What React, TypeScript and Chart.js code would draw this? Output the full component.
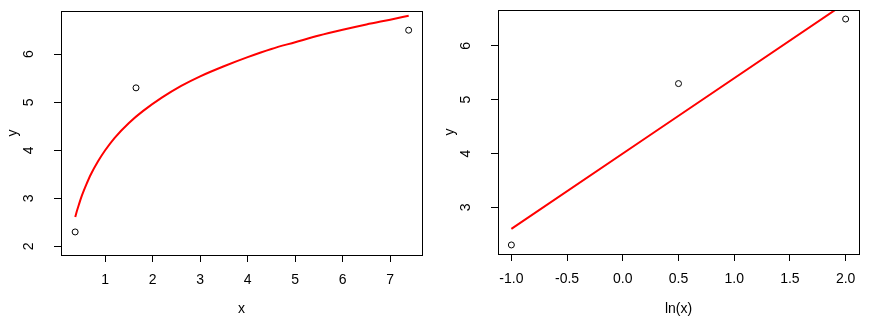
import React, { useEffect, useRef } from "react";
import { Chart, registerables } from "chart.js";

Chart.register(...registerables);

// Observed data
const obsX = [0.368, 1.649, 7.389];
const obsLnX = [-1.0, 0.5, 2.0];
const obsY = [2.3, 5.3, 6.5];

// Fitted curve on x scale
const curveX = [0.37, 0.4, 0.45, 0.5, 0.55, 0.6, 0.7, 0.85, 1.0, 1.2, 1.5, 1.8, 2.2, 2.6, 3.0, 3.5, 4.0, 4.5, 5.0, 5.5, 6.0, 6.5, 7.0, 7.39];
const curveY = [2.61, 2.72, 2.88, 3.03, 3.16, 3.28, 3.5, 3.77, 4.0, 4.26, 4.57, 4.82, 5.1, 5.34, 5.54, 5.75, 5.94, 6.11, 6.25, 6.39, 6.51, 6.62, 6.72, 6.8];

// Fitted line on ln(x) scale
const lineLnX = [-1.0, 2.0];
const lineY = [2.6, 6.8];

// Tick labels
const leftXTicks = [1, 2, 3, 4, 5, 6, 7];
const leftYTicks = [2, 3, 4, 5, 6];
const rightXTicks = [-1.0, -0.5, 0.0, 0.5, 1.0, 1.5, 2.0];
const rightYTicks = [3, 4, 5, 6];

const FONT = "'Liberation Sans', Arial, sans-serif";

const boxPlugin = {
  id: "rbox",
  afterDraw(chart: any) {
    const { ctx, chartArea: a } = chart;
    const l = Math.round(a.left);
    const t = Math.round(a.top);
    const r = Math.round(a.right);
    const b = Math.round(a.bottom);
    ctx.save();
    ctx.strokeStyle = "#000";
    ctx.lineWidth = 1;
    ctx.strokeRect(l + 0.5, t + 0.5, r - l, b - t);
    ctx.restore();
  },
};

type PanelProps = {
  left: number;
  width: number;
  padTop: number;
  padRight: number;
  xAxisHeight: number;
  xs: number[];
  ys: number[];
  lx: number[];
  ly: number[];
  xMin: number;
  xMax: number;
  yMin: number;
  yMax: number;
  xTicks: number[];
  yTicks: number[];
  xDecimals: number;
  xTitle: string;
};

function Panel(p: PanelProps) {
  const ref = useRef<HTMLCanvasElement>(null);
  useEffect(() => {
    if (!ref.current) return;
    const tickFont = { family: FONT, size: 14 };
    const chart = new Chart(ref.current, {
      type: "scatter",
      data: {
        datasets: [
          {
            data: p.lx.map((x, i) => ({ x, y: p.ly[i] })),
            showLine: true,
            borderColor: "#ff0000",
            borderWidth: 2,
            pointRadius: 0,
            tension: 0,
            cubicInterpolationMode: "monotone",
          } as any,
          {
            data: p.xs.map((x, i) => ({ x, y: p.ys[i] })),
            showLine: false,
            pointRadius: 3,
            pointBorderColor: "#000",
            pointBackgroundColor: "rgba(0,0,0,0)",
            pointBorderWidth: 1,
          },
        ],
      },
      options: {
        responsive: false,
        animation: false,
        events: [],
        layout: { padding: { top: p.padTop, right: p.padRight, left: 0, bottom: 0 } },
        plugins: { legend: { display: false }, tooltip: { enabled: false } },
        scales: {
          x: {
            type: "linear",
            min: p.xMin,
            max: p.xMax,
            afterBuildTicks: (s: any) => {
              s.ticks = p.xTicks.map((v) => ({ value: v }));
            },
            afterFit: (s: any) => {
              s.height = p.xAxisHeight;
              s.paddingLeft = 0;
              s.paddingRight = 0;
            },
            grid: {
              display: true,
              drawOnChartArea: false,
              drawTicks: true,
              tickLength: 7,
              color: "#000",
              lineWidth: 1,
            },
            border: { display: false },
            ticks: {
              autoSkip: false,
              maxRotation: 0,
              minRotation: 0,
              padding: 10,
              color: "#000",
              font: tickFont,
              callback: (v: any) => Number(v).toFixed(p.xDecimals),
            },
            title: {
              display: true,
              text: p.xTitle,
              color: "#000",
              font: { family: FONT, size: 14 },
              padding: { top: 3, bottom: 3 },
            },
          },
          y: {
            type: "linear",
            min: p.yMin,
            max: p.yMax,
            afterBuildTicks: (s: any) => {
              s.ticks = p.yTicks.map((v) => ({ value: v }));
            },
            afterFit: (s: any) => {
              s.width = 61;
              s.paddingTop = 0;
              s.paddingBottom = 0;
            },
            grid: {
              display: true,
              drawOnChartArea: false,
              drawTicks: true,
              tickLength: 7,
              color: "#000",
              lineWidth: 1,
            },
            border: { display: false },
            ticks: {
              autoSkip: false,
              minRotation: 90,
              maxRotation: 90,
              crossAlign: "center",
              padding: 21,
              color: "#000",
              font: tickFont,
              callback: (v: any) => String(v),
            },
            title: {
              display: true,
              text: "y",
              color: "#000",
              font: { family: FONT, size: 14 },
              padding: { top: 5, bottom: 5 },
            },
          },
        },
      },
      plugins: [boxPlugin],
    } as any);
    return () => chart.destroy();
  }, []);
  return (
    <canvas
      ref={ref}
      width={p.width}
      height={321}
      style={{ position: "absolute", left: p.left, top: 0, width: p.width, height: 321, display: "block" }}
    />
  );
}

export default function App() {
  return (
    <div style={{ position: "fixed", left: 0, top: 0, width: 875, height: 321, background: "#fff", overflow: "hidden" }}>
      <Panel
        left={0}
        width={437}
        padTop={11}
        padRight={15}
        xAxisHeight={66}
        xs={obsX}
        ys={obsY}
        lx={curveX}
        ly={curveY}
        xMin={0.07}
        xMax={7.67}
        yMin={1.82}
        yMax={6.9}
        xTicks={leftXTicks}
        yTicks={leftYTicks}
        xDecimals={0}
        xTitle="x"
      />
      <Panel
        left={437}
        width={438}
        padTop={10}
        padRight={16}
        xAxisHeight={67}
        xs={obsLnX}
        ys={obsY}
        lx={lineLnX}
        ly={lineY}
        xMin={-1.12}
        xMax={2.12}
        yMin={2.132}
        yMax={6.668}
        xTicks={rightXTicks}
        yTicks={rightYTicks}
        xDecimals={1}
        xTitle="ln(x)"
      />
    </div>
  );
}
